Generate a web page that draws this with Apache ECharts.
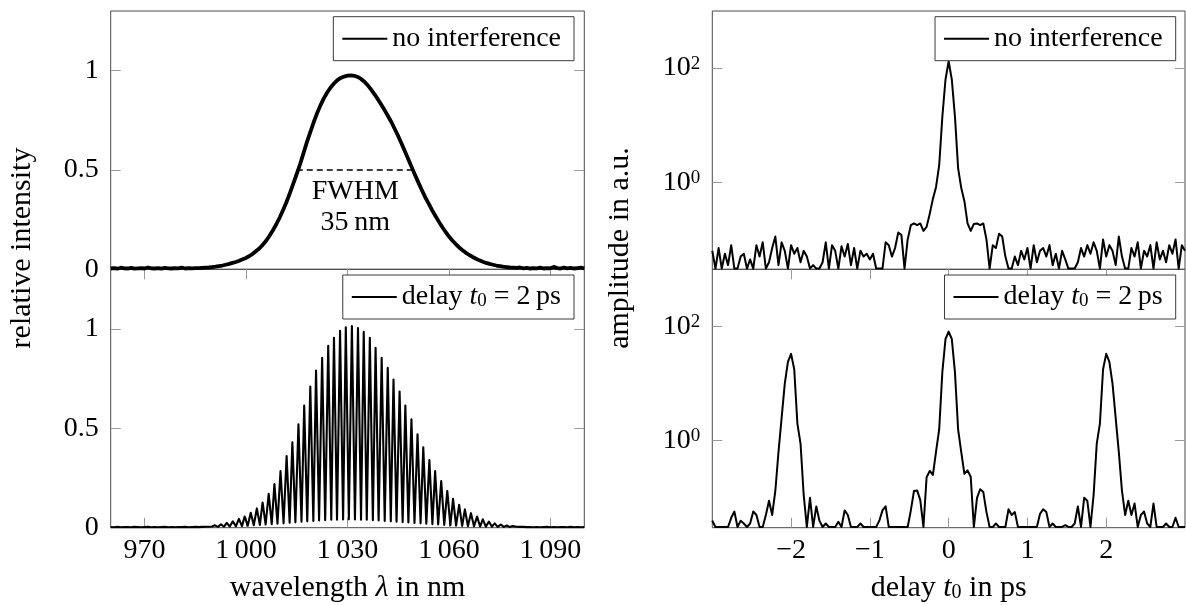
<!DOCTYPE html>
<html><head><meta charset="utf-8">
<script src="https://cdn.jsdelivr.net/npm/echarts@6/dist/echarts.min.js"></script>
<style>html,body{margin:0;padding:0;background:#fff}#c{width:1186px;height:605px}</style>
</head><body><div id="c"></div>
<script>
// ---------------- data ----------------
// left top: spectrum without interference, 960..1100 nm, 1 nm sampling
const wlStart = 960, wlStep = 1;
const specNoInterf = [
 0.004,0.006,0.003,0.008,0.005,0.004,0.007,0.003,0.005,0.006,0.004,0.009,0.005,0.004,0.006,0.003,0.007,0.005,0.004,0.006,0.005,0.008,0.004,0.006,0.005,
 0.006,0.006,0.007,0.008,0.009,0.011,0.013,0.016,0.019,0.023,
 0.027,0.032,0.037,0.043,0.05,0.057,0.067,0.078,0.092,0.106,
 0.124,0.145,0.17,0.198,0.228,0.262,0.3,0.34,0.385,0.432,
 0.48,0.53,0.585,0.64,0.69,0.74,0.785,0.825,0.86,0.89,
 0.915,0.935,0.952,0.963,0.97,0.975,0.976,0.974,0.968,0.958,
 0.944,0.926,0.904,0.88,0.855,0.828,0.8,0.77,0.74,0.705,
 0.67,0.632,0.593,0.553,0.513,0.473,0.435,0.398,0.362,0.33,
 0.298,0.268,0.24,0.213,0.188,0.165,0.145,0.127,0.11,0.096,
 0.083,0.072,0.062,0.053,0.045,0.038,0.032,0.027,0.023,0.019,
 0.016,0.013,0.011,0.009,0.008,0.007,0.009,0.005,0.007,0.004,
 0.006,0.005,0.008,0.004,0.006,0.005,0.012,0.006,0.004,0.009,0.005,0.007,0.004,0.006,0.008,0.005
];
const fwhmLambda = [1015.0, 1049.3];
const fwhmLevel = 0.5;
const fwhmTextLambda = [1032.3, 1032.3];
const fwhmTextLevel = [0.39, 0.235];
const fwhmTexts = ['FWHM', '35\u2009nm'];

// left bottom: fringes with delay t0 = 2 ps
const fringeFloorLeftStart = 960;
const fringeFloorLeft = [0.003,0.002,0.004,0.002,0.003,0.003,0.002,0.004,0.003,0.002,0.003,0.004,0.002,0.003,0.002,0.003,0.004,0.002,0.003,0.002,0.003,0.003,0.004,0.002,0.003,0.004,0.003,0.004,0.005,0.005,0.006];
const fringePeakLambda = [990.8,992.6,994.3,996.1,997.9,999.6,1001.4,1003.2,1004.9,1006.7,1008.4,1010.2,1012.0,1013.7,1015.5,1017.2,1019.0,1020.7,1022.5,1024.3,1026.0,1027.8,1029.5,1031.3,1033.1,1034.8,1036.6,1038.3,1040.1,1041.9,1043.6,1045.4,1047.1,1048.9,1050.7,1052.4,1054.2,1055.9,1057.7,1059.5,1061.2,1063.0,1064.7,1066.5,1068.3,1070.0,1071.8,1073.5,1075.3,1077.1,1078.8];
const fringePeakValue = [0.012,0.017,0.024,0.032,0.044,0.056,0.075,0.097,0.127,0.17,0.22,0.285,0.36,0.43,0.52,0.615,0.71,0.79,0.855,0.915,0.955,0.99,1.008,1.015,1.005,0.985,0.955,0.905,0.855,0.805,0.745,0.685,0.615,0.545,0.47,0.405,0.34,0.285,0.235,0.185,0.145,0.115,0.092,0.073,0.056,0.042,0.031,0.022,0.016,0.011,0.008];
const fringeTroughLambda = [991.7,993.5,995.2,997.0,998.8,1000.5,1002.3,1004.1,1005.8,1007.6,1009.3,1011.1,1012.9,1014.6,1016.4,1018.1,1019.9,1021.6,1023.4,1025.2,1026.9,1028.7,1030.4,1032.2,1034.0,1035.7,1037.5,1039.2,1041.0,1042.8,1044.5,1046.3,1048.0,1049.8,1051.6,1053.3,1055.1,1056.8,1058.6,1060.4,1062.1,1063.9,1065.6,1067.4,1069.2,1070.9,1072.7,1074.4,1076.2,1078.0];
const fringeTroughValue = [0.004,0.005,0.006,0.007,0.008,0.01,0.012,0.014,0.016,0.018,0.02,0.022,0.025,0.027,0.03,0.032,0.034,0.036,0.038,0.04,0.04,0.041,0.042,0.041,0.04,0.04,0.038,0.036,0.034,0.032,0.03,0.028,0.026,0.024,0.022,0.02,0.018,0.016,0.014,0.012,0.01,0.009,0.008,0.007,0.006,0.005,0.005,0.004,0.004,0.003];
const fringeFloorRightStart = 1080;
const fringeFloorRight = [0.005,0.004,0.004,0.003,0.003,0.002,0.003,0.002,0.003,0.004,0.002,0.003,0.002,0.003,0.003,0.002,0.004,0.002,0.003,0.002,0.003];

// right panels: log10 of amplitude, delay -3..3 ps, 0.04 ps sampling
const delayStart = -3, delayStep = 0.04;
const ampNoInterfLog10 = [
 -1.2,-1.51,-1.15,-1.51,-1.25,-1.45,-1.1,-1.51,-1.51,-1.3,
 -1.25,-1.51,-1.35,-1.51,-1.1,-1.3,-1.05,-1.51,-1.4,-1.15,
 -0.95,-1.45,-1.05,-1.2,-1.51,-1.1,-1.25,-1.15,-1.4,-1.2,
 -1.3,-1.51,-1.45,-1.51,-1.51,-1.4,-1.05,-1.51,-1.1,-1.2,
 -1.51,-1.12,-1.3,-1.08,-1.45,-1.15,-1.51,-1.2,-1.3,-1.25,
 -1.35,-1.25,-1.51,-1.51,-1.51,-1.05,-1.1,-1.3,-1.15,-0.88,
 -0.92,-1.51,-1.0,-0.75,-0.72,-0.75,-0.72,-0.85,-0.78,-0.55,
 -0.29,-0.08,0.3,1.15,1.8,2.12,1.8,1.15,0.25,-0.1,
 -0.33,-0.72,-0.85,-0.73,-0.72,-0.75,-0.72,-1.0,-1.51,-1.1,
 -1.15,-0.9,-0.95,-1.3,-1.51,-1.51,-1.3,-1.45,-1.2,-1.35,
 -1.15,-1.51,-1.1,-1.4,-1.2,-1.15,-1.3,-1.1,-1.45,-1.25,
 -1.51,-1.2,-1.35,-1.51,-1.51,-1.51,-1.4,-1.15,-1.3,-1.1,
 -1.25,-1.05,-1.2,-1.51,-1.0,-1.3,-1.1,-1.2,-1.45,-0.95,
 -1.3,-1.51,-1.51,-1.15,-1.3,-1.05,-1.51,-1.2,-1.3,-1.1,
 -1.51,-1.05,-1.35,-1.2,-1.4,-1.1,-1.25,-1.0,-1.51,-1.1,
 -1.2
];
const ampDelayLog10 = [
 -1.4,-1.51,-1.51,-1.51,-1.51,-1.51,-1.35,-1.24,-1.51,-1.4,
 -1.45,-1.51,-1.45,-1.24,-1.3,-1.51,-1.51,-1.3,-1.05,-1.3,
 -0.88,-0.2,0.4,1.0,1.38,1.52,1.25,0.3,-0.05,-0.95,
 -1.51,-1.0,-1.51,-1.15,-1.4,-1.51,-1.45,-1.51,-1.51,-1.51,
 -1.42,-1.51,-1.22,-1.3,-1.51,-1.51,-1.51,-1.45,-1.51,-1.51,
 -1.51,-1.51,-1.51,-1.4,-1.22,-1.15,-1.51,-1.51,-1.51,-1.51,
 -1.51,-1.51,-1.51,-1.22,-0.88,-0.87,-1.04,-1.51,-0.64,-0.53,
 -0.6,-0.19,0.2,1.2,1.78,1.91,1.78,1.2,0.2,-0.2,
 -0.58,-0.52,-0.63,-1.51,-1.0,-0.85,-0.9,-1.25,-1.51,-1.51,
 -1.45,-1.51,-1.51,-1.51,-1.2,-1.3,-1.25,-1.51,-1.51,-1.51,
 -1.51,-1.51,-1.51,-1.51,-1.28,-1.2,-1.25,-1.51,-1.45,-1.51,
 -1.51,-1.51,-1.48,-1.51,-1.51,-1.45,-1.15,-1.51,-1.0,-1.05,
 -1.51,-0.95,-0.05,0.3,1.25,1.52,1.38,1.0,0.4,-0.2,
 -0.88,-1.3,-1.05,-1.3,-1.1,-1.51,-1.3,-1.24,-1.45,-1.51,
 -1.1,-1.51,-1.51,-1.51,-1.45,-1.51,-1.51,-1.35,-1.51,-1.51,
 -1.51
];

// axes / ticks
const wlMin = 960, wlMax = 1100;
const wlTicks = [970, 1000, 1030, 1060, 1090];
const intensityMin = 0, intensityMax = 1.3;
const intensityTicks = [0, 0.5, 1];
const delayMin = -3, delayMax = 3;
const delayTicks = [-2, -1, 0, 1, 2];
const ampLogMin = -1.523, ampLogMax = 3;
const ampLogTicks = [0, 2];

const nameNoInterf = 'no interference';
const nameDelay = 'delay t0 = 2 ps';

// ---------------- build ----------------
const specPairs = specNoInterf.map((v, i) => [wlStart + i * wlStep, v]);
const fringePairs = [];
fringeFloorLeft.forEach((v, i) => fringePairs.push([fringeFloorLeftStart + i, v]));
fringePeakLambda.forEach((l, k) => {
  fringePairs.push([l, fringePeakValue[k]]);
  if (k < fringeTroughLambda.length) fringePairs.push([fringeTroughLambda[k], fringeTroughValue[k]]);
});
fringeFloorRight.forEach((v, i) => fringePairs.push([fringeFloorRightStart + i, v]));
const ampNoPairs = ampNoInterfLog10.map((v, i) => [+(delayStart + i * delayStep).toFixed(2), v]);
const ampDelayPairs = ampDelayLog10.map((v, i) => [+(delayStart + i * delayStep).toFixed(2), v]);

const FONT = '"Liberation Serif", "DejaVu Serif", serif';
const FS = 28;
const FT = 30;
const tickCol = '#9a9a9a';
const frameCol = '#4a4a4a';

function tick(vals) { return { show: true, inside: true, length: 10, customValues: vals, lineStyle: { color: tickCol, width: 1 } }; }
function lbl(vals, fmt, margin, rich) {
  const o = { show: true, customValues: vals, formatter: fmt, margin: margin, fontFamily: FONT, fontSize: FS, lineHeight: FS, color: '#000' };
  if (rich) o.rich = rich;
  return o;
}
const noLine = { show: false, onZero: false };
const supRich = { sup: { fontFamily: FONT, fontSize: 19, lineHeight: 19, verticalAlign: 'top', color: '#000' } };
const legRich = {
  it: { fontFamily: FONT, fontSize: FS, lineHeight: FS, fontStyle: 'italic', color: '#000' },
  sub: { fontFamily: FONT, fontSize: 19, lineHeight: 19, verticalAlign: 'bottom', color: '#000' }
};
const titleRich = {
  it: { fontFamily: FONT, fontSize: FT, lineHeight: FT, fontStyle: 'italic', color: '#000' },
  sub: { fontFamily: FONT, fontSize: 20, lineHeight: 20, verticalAlign: 'bottom', color: '#000' }
};
const wlFmt = v => String(v).replace(/^(\d)(\d{3})$/, '$1\u2009$2');
const delayFmt = v => (v < 0 ? '\u2212' + Math.abs(v) : String(v));
const ampFmt = v => '10{sup|' + v + '}';

const grids = [
  { left: 110.7, top: 11, width: 473.6, height: 258.3 },
  { left: 110.7, top: 269.3, width: 473.6, height: 258.4 },
  { left: 712.3, top: 11, width: 472.7, height: 258.3 },
  { left: 712.3, top: 269.3, width: 472.7, height: 258.4 }
].map(g => Object.assign(g, { show: true, borderColor: frameCol, borderWidth: 1, backgroundColor: 'rgba(0,0,0,0)' }));

const hiddenX = (gi, mn, mx) => ({ type: 'value', gridIndex: gi, min: mn, max: mx, show: false, axisLine: noLine });
const xAxes = [
  hiddenX(0, wlMin, wlMax),
  { type: 'value', gridIndex: 1, position: 'bottom', min: wlMin, max: wlMax, axisLine: noLine, splitLine: { show: false },
    axisTick: tick(wlTicks), axisLabel: lbl(wlTicks, wlFmt, 9),
    name: 'wavelength {it|\u03bb} in nm', nameLocation: 'middle', nameGap: 45,
    nameTextStyle: { fontFamily: FONT, fontSize: FT, lineHeight: FT, color: '#000', rich: titleRich } },
  { type: 'value', gridIndex: 1, position: 'top', min: wlMin, max: wlMax, axisLine: noLine, splitLine: { show: false },
    axisTick: tick(wlTicks), axisLabel: { show: false } },
  hiddenX(2, delayMin, delayMax),
  { type: 'value', gridIndex: 3, position: 'bottom', min: delayMin, max: delayMax, axisLine: noLine, splitLine: { show: false },
    axisTick: tick(delayTicks), axisLabel: lbl(delayTicks, delayFmt, 9),
    name: 'delay {it|t}{sub|0} in ps', nameLocation: 'middle', nameGap: 45,
    nameTextStyle: { fontFamily: FONT, fontSize: FT, lineHeight: FT, color: '#000', rich: titleRich } },
  { type: 'value', gridIndex: 3, position: 'top', min: delayMin, max: delayMax, axisLine: noLine, splitLine: { show: false },
    axisTick: tick(delayTicks), axisLabel: { show: false } }
];

function yPair(gi, mn, mx, ticks, fmt, rich) {
  return [
    { type: 'value', gridIndex: gi, position: 'left', min: mn, max: mx, axisLine: noLine, splitLine: { show: false },
      axisTick: tick(ticks), axisLabel: lbl(ticks, fmt, 12, rich) },
    { type: 'value', gridIndex: gi, position: 'right', min: mn, max: mx, axisLine: noLine, splitLine: { show: false },
      axisTick: tick(ticks), axisLabel: { show: false } }
  ];
}
const yAxes = [].concat(
  yPair(0, intensityMin, intensityMax, intensityTicks, v => String(v)),
  yPair(1, intensityMin, intensityMax, intensityTicks, v => String(v)),
  yPair(2, ampLogMin, ampLogMax, ampLogTicks, ampFmt, supRich),
  yPair(3, ampLogMin, ampLogMax, ampLogTicks, ampFmt, supRich)
);

function lineSeries(name, xi, yi, data, w) {
  return { type: 'line', name: name, xAxisIndex: xi, yAxisIndex: yi, data: data, showSymbol: false, symbol: 'none',
    clip: true, lineStyle: { color: '#000', width: w, join: 'round' }, itemStyle: { color: '#000' }, z: 3 };
}
const series = [
  lineSeries(nameNoInterf, 0, 0, specPairs, 3.8),
  { type: 'line', name: 'fwhm', xAxisIndex: 0, yAxisIndex: 0, data: fwhmLambda.map(l => [l, fwhmLevel]), showSymbol: false, symbol: 'none',
    lineStyle: { color: '#000', width: 1.5, type: [6, 4] }, z: 4 },
  lineSeries(nameDelay, 1, 2, fringePairs, 2.1),
  lineSeries(nameNoInterf, 3, 4, ampNoPairs, 2),
  lineSeries(nameDelay, 4, 6, ampDelayPairs, 2)
];

function legend(name, right, top) {
  return {
    data: [name], right: right, top: top, orient: 'horizontal', selectedMode: false,
    icon: 'rect', itemWidth: 45, itemHeight: 2, itemGap: 0,
    padding: [8, 13, 8, 9], borderColor: '#3a3a3a', borderWidth: 1, borderRadius: 0, backgroundColor: '#fff',
    itemStyle: { color: '#000' },
    textStyle: { fontFamily: FONT, fontSize: FS, lineHeight: FS, color: '#000', rich: legRich },
    formatter: n => (n === nameDelay ? 'delay {it|t}{sub|0} = 2\u2009ps' : n),
    z: 10
  };
}

const option = {
  animation: false,
  backgroundColor: '#fff',
  grid: grids,
  xAxis: xAxes,
  yAxis: yAxes,
  legend: [
    legend(nameNoInterf, 612, 16.7),
    legend(nameDelay, 612, 275),
    legend(nameNoInterf, 10.3, 16.7),
    legend(nameDelay, 10.3, 275)
  ],
  series: series
};

const chart = echarts.init(document.getElementById('c'), null, { renderer: 'canvas' });
chart.setOption(option);

// text annotations placed through the chart's own scales
const annot = fwhmTexts.map((t, i) => {
  const p = chart.convertToPixel({ xAxisIndex: 0, yAxisIndex: 0 }, [fwhmTextLambda[i], fwhmTextLevel[i]]);
  return { type: 'text', x: p[0], y: p[1], z: 20,
    style: { text: t, font: FS + 'px ' + FONT, fill: '#000', textAlign: 'center', textVerticalAlign: 'middle' } };
});
chart.setOption({
  graphic: annot.concat([
    { type: 'text', x: 22, y: 248, rotation: Math.PI / 2,
      style: { text: 'relative intensity', font: FT + 'px ' + FONT, fill: '#000', textAlign: 'center', textVerticalAlign: 'middle' } },
    { type: 'text', x: 620, y: 248, rotation: Math.PI / 2,
      style: { text: 'amplitude in a.u.', font: FT + 'px ' + FONT, fill: '#000', textAlign: 'center', textVerticalAlign: 'middle' } }
  ])
});
</script></body></html>
